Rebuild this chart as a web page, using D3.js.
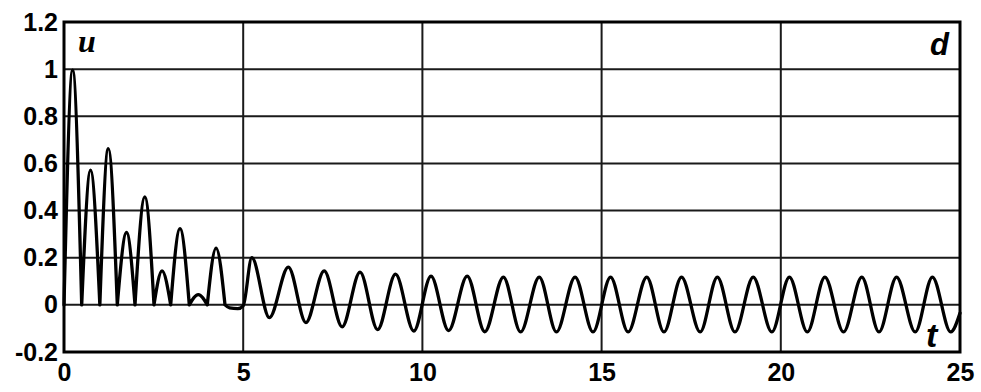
<!DOCTYPE html>
<html>
<head>
<meta charset="utf-8">
<script src="https://cdn.jsdelivr.net/npm/d3@7"></script>
<style>
  html, body { margin: 0; padding: 0; background: #fff; }
  svg { display: block; }
  .tick text { font-family: "Liberation Sans", Arial, sans-serif; font-weight: bold; font-size: 25px; fill: #000; }
</style>
</head>
<body>
<svg id="chart" width="981" height="392"></svg>
<script>
// Time samples (extrema, zero touches) of the response u(t)
const time = [
  0, 0.24, 0.494,
  0.74, 1.0,
  1.237, 1.487,
  1.745, 1.981,
  2.255, 2.511,
  2.735, 2.977,
  3.237, 3.496,
  3.747, 3.998,
  4.243, 4.492,
  4.62, 4.85, 5.0,
  5.24, 5.73, 6.26, 6.75, 7.26, 7.76, 8.26, 8.75, 9.25, 9.76,
  10.24, 10.73, 11.25, 11.74, 12.26, 12.74, 13.26, 13.74, 14.26, 14.76,
  15.25, 15.74, 16.26, 16.74, 17.23, 17.75, 18.23, 18.72, 19.23, 19.75,
  20.24, 20.74, 21.23, 21.75, 22.26, 22.74, 23.23, 23.75, 24.23, 24.74,
  25
];
const response = [
  0, 0.996, 0,
  0.571, 0,
  0.663, 0,
  0.307, 0,
  0.458, 0,
  0.144, 0,
  0.323, 0,
  0.043, 0,
  0.241, 0,
  -0.013, -0.016, -0.004,
  0.2, -0.054, 0.16, -0.075, 0.144, -0.093, 0.139, -0.105, 0.13, -0.111,
  0.122, -0.109, 0.122, -0.114, 0.118, -0.115, 0.118, -0.115, 0.118, -0.115,
  0.118, -0.115, 0.118, -0.115, 0.118, -0.115, 0.118, -0.115, 0.118, -0.115,
  0.118, -0.115, 0.118, -0.115, 0.118, -0.115, 0.118, -0.115, 0.118, -0.115,
  -0.035
];
// Times where the rectified response touches zero with a sharp corner
const cuspTimes = [0.494, 1.0, 1.487, 1.981, 2.511, 2.977, 3.496, 3.998, 4.492];

const xTicks = [0, 5, 10, 15, 20, 25];
const xTickLabels = ["0", "5", "10", "15", "20", "25"];
const yTicks = [-0.2, 0, 0.2, 0.4, 0.6, 0.8, 1, 1.2];
const yTickLabels = ["-0.2", "0", "0.2", "0.4", "0.6", "0.8", "1", "1.2"];

const svg = d3.select("#chart");
const x = d3.scaleLinear().domain([0, 25]).range([64, 960]);
const y = d3.scaleLinear().domain([-0.2, 1.2]).range([352, 22]);

// grid
const grid = svg.append("g").attr("stroke", "#1a1a1a").attr("stroke-width", 2);
grid.selectAll("line.v").data(xTicks.slice(1, -1)).join("line")
  .attr("x1", d => x(d)).attr("x2", d => x(d))
  .attr("y1", y(1.2)).attr("y2", y(-0.2));
grid.selectAll("line.h").data(yTicks.slice(1, -1)).join("line")
  .attr("x1", x(0)).attr("x2", x(25))
  .attr("y1", d => y(d)).attr("y2", d => y(d));

// response curve, split at the sharp zero touches
const pts = time.map((t, i) => ({ t, u: response[i] }));
const segments = [];
let cur = [];
pts.forEach(p => {
  cur.push(p);
  if (cuspTimes.includes(p.t)) { segments.push(cur); cur = [p]; }
});
if (cur.length > 1) segments.push(cur);
const line = d3.line().x(d => x(d.t)).y(d => y(d.u)).curve(d3.curveMonotoneX);
svg.append("path")
  .attr("d", segments.map(s => line(s)).join(""))
  .attr("fill", "none").attr("stroke", "#000")
  .attr("stroke-width", 3.3).attr("stroke-linejoin", "round").attr("stroke-linecap", "round");

// frame
svg.append("rect")
  .attr("x", x(0)).attr("y", y(1.2))
  .attr("width", x(25) - x(0)).attr("height", y(-0.2) - y(1.2))
  .attr("fill", "none").attr("stroke", "#000").attr("stroke-width", 3);

// axes labels
svg.append("g").attr("transform", `translate(${x(0)},0)`)
  .call(d3.axisLeft(y).tickValues(yTicks).tickSize(0).tickPadding(6)
    .tickFormat((d, i) => yTickLabels[i]))
  .call(g => g.select(".domain").remove());
svg.append("g").attr("transform", `translate(0,${y(-0.2)})`)
  .call(d3.axisBottom(x).tickValues(xTicks).tickSize(0).tickPadding(11)
    .tickFormat((d, i) => xTickLabels[i]))
  .call(g => g.select(".domain").remove());

// panel annotations
svg.append("text").attr("x", 78).attr("y", 52)
  .attr("font-family", "Liberation Serif, Times New Roman, serif")
  .attr("font-weight", "bold").attr("font-style", "italic").attr("font-size", 32)
  .text("u");
svg.append("text").attr("x", 949).attr("y", 55).attr("text-anchor", "end")
  .attr("font-family", "Liberation Sans, Arial, sans-serif")
  .attr("font-weight", "bold").attr("font-style", "italic").attr("font-size", 31)
  .text("d");
svg.append("text").attr("x", 926).attr("y", 347)
  .attr("font-family", "Liberation Sans, Arial, sans-serif")
  .attr("font-weight", "bold").attr("font-style", "italic").attr("font-size", 34)
  .text("t");
</script>
</body>
</html>
